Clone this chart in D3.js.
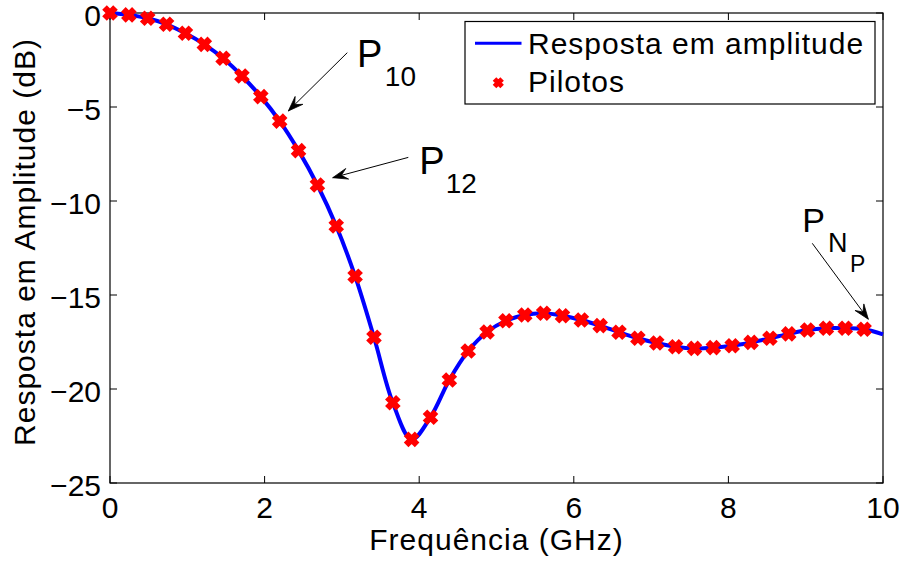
<!DOCTYPE html>
<html>
<head>
<meta charset="utf-8">
<script src="https://cdn.jsdelivr.net/npm/d3@7"></script>
<style>
  html, body { margin: 0; padding: 0; background: #fff; }
  svg { display: block; font-family: "Liberation Sans", Arial, Helvetica, sans-serif; }
</style>
</head>
<body>
<svg id="chart" width="903" height="561"></svg>
<script>
// Pilot subcarrier frequencies (GHz) and their measured amplitude response (dB)
const pilotFreq = [0, 0.244, 0.488, 0.732, 0.976, 1.220, 1.463, 1.707, 1.951, 2.195,
  2.439, 2.683, 2.927, 3.171, 3.415, 3.659, 3.902, 4.146, 4.390, 4.634,
  4.878, 5.122, 5.366, 5.610, 5.854, 6.098, 6.341, 6.585, 6.829, 7.073,
  7.317, 7.561, 7.805, 8.049, 8.293, 8.537, 8.780, 9.024, 9.268, 9.512, 9.756];
const pilotDb = [0.0, -0.1, -0.28, -0.6, -1.08, -1.67, -2.41, -3.35, -4.45, -5.75,
  -7.32, -9.15, -11.33, -14.0, -17.25, -20.73, -22.68, -21.5, -19.52, -17.98,
  -16.97, -16.37, -16.06, -15.97, -16.1, -16.33, -16.63, -16.98, -17.3, -17.55,
  -17.75, -17.84, -17.8, -17.7, -17.52, -17.3, -17.07, -16.86, -16.77, -16.77, -16.82];

// Continuous amplitude response runs through the pilots up to the band edge
const responseFreq = pilotFreq.concat([10]);
const responseDb = pilotDb.concat([-17.09]);

const xTicks = [0, 2, 4, 6, 8, 10];
const xTickLabels = ["0", "2", "4", "6", "8", "10"];
const yTicks = [0, -5, -10, -15, -20, -25];
const yTickLabels = ["0", "\u22125", "\u221210", "\u221215", "\u221220", "\u221225"];

const legendLabels = ["Resposta em amplitude", "Pilotos"];

// Callouts: label text, label anchor and arrow tail/tip in data units
const callouts = [
  { main: "P", subs: [{ t: "10", size: 28, dx: 2.5, dy: 19.5 }], size: 38, tx: 3.195, ty: -2.86,
    fromX: 3.070, fromY: -2.11, toX: 2.307, toY: -5.21 },
  { main: "P", subs: [{ t: "12", size: 28, dx: 1, dy: 19.5 }], size: 38, tx: 4.001, ty: -8.54,
    fromX: 3.859, fromY: -7.68, toX: 2.881, toY: -8.76 },
  { main: "P", subs: [{ t: "N", size: 27, dx: 3, dy: 20 }, { t: "P", size: 23, dx: 2.5, dy: 20 }], size: 34, tx: 8.956, ty: -11.63,
    fromX: 9.085, fromY: -12.25, toX: 9.810, toY: -16.29 }
];

const svg = d3.select("#chart");
const plotLeft = 110, plotRight = 883, plotTop = 13, plotBottom = 483;

const x = d3.scaleLinear().domain([0, 10]).range([plotLeft, plotRight]);
const y = d3.scaleLinear().domain([-25, 0]).range([plotBottom, plotTop]);

const tickLen = 7;
const fontSize = 30;

// Axes box with inward ticks on all four sides
const axisG = svg.append("g");
axisG.append("rect")
  .attr("x", plotLeft).attr("y", plotTop)
  .attr("width", plotRight - plotLeft).attr("height", plotBottom - plotTop)
  .attr("fill", "none").attr("stroke", "#000").attr("stroke-width", 1.2);

xTicks.forEach((t, i) => {
  const px = x(t);
  axisG.append("line").attr("x1", px).attr("x2", px).attr("y1", plotBottom).attr("y2", plotBottom - tickLen)
    .attr("stroke", "#000").attr("stroke-width", 1);
  axisG.append("line").attr("x1", px).attr("x2", px).attr("y1", plotTop).attr("y2", plotTop + tickLen)
    .attr("stroke", "#000").attr("stroke-width", 1);
  axisG.append("text").attr("x", px).attr("y", plotBottom + 35)
    .attr("text-anchor", "middle").attr("font-size", fontSize).text(xTickLabels[i]);
});

yTicks.forEach((t, i) => {
  const py = y(t);
  axisG.append("line").attr("x1", plotLeft).attr("x2", plotLeft + tickLen).attr("y1", py).attr("y2", py)
    .attr("stroke", "#000").attr("stroke-width", 1);
  axisG.append("line").attr("x1", plotRight).attr("x2", plotRight - tickLen).attr("y1", py).attr("y2", py)
    .attr("stroke", "#000").attr("stroke-width", 1);
  axisG.append("text").attr("x", plotLeft - 9).attr("y", py + 13)
    .attr("text-anchor", "end").attr("font-size", fontSize).text(yTickLabels[i]);
});

// Axis titles
svg.append("text")
  .attr("x", (plotLeft + plotRight) / 2).attr("y", 550)
  .attr("text-anchor", "middle").attr("font-size", fontSize).attr("letter-spacing", 1)
  .text("Frequência (GHz)");

svg.append("text")
  .attr("transform", `translate(35, ${(plotTop + plotBottom) / 2 - 6}) rotate(-90)`)
  .attr("text-anchor", "middle").attr("font-size", fontSize).attr("letter-spacing", 1)
  .text("Resposta em Amplitude (dB)");

// Amplitude response curve
const lineGen = d3.line()
  .x((d, i) => x(responseFreq[i]))
  .y(d => y(d))
  .curve(d3.curveCatmullRom.alpha(0.5));

svg.append("path")
  .datum(responseDb)
  .attr("d", lineGen)
  .attr("fill", "none")
  .attr("stroke", "#0000ff")
  .attr("stroke-width", 4)
  .attr("stroke-linejoin", "round");

// Pilot markers drawn as thick crosses
function cross(g, cx, cy, r, w) {
  g.append("path")
    .attr("d", `M${cx - r},${cy - r}L${cx + r},${cy + r}M${cx - r},${cy + r}L${cx + r},${cy - r}`)
    .attr("stroke", "#ff0000").attr("stroke-width", w).attr("fill", "none");
}
const markerG = svg.append("g");
pilotDb.forEach((v, i) => cross(markerG, x(pilotFreq[i]), y(v), 5.5, 6.5));

// Callout arrows with labels
function arrow(g, x1, y1, x2, y2) {
  g.append("line").attr("x1", x1).attr("y1", y1).attr("x2", x2).attr("y2", y2)
    .attr("stroke", "#000").attr("stroke-width", 1);
  const ang = Math.atan2(y2 - y1, x2 - x1);
  const L = 15, W = 5.5;
  const ux = Math.cos(ang), uy = Math.sin(ang);
  const px = -uy, py = ux;
  const bx = x2 - ux * L, by = y2 - uy * L;
  const nx = x2 - ux * L * 0.6, ny = y2 - uy * L * 0.6;
  g.append("path")
    .attr("d", `M${x2},${y2}L${bx + px * W},${by + py * W}L${nx},${ny}L${bx - px * W},${by - py * W}Z`)
    .attr("fill", "#000").attr("stroke", "#000").attr("stroke-width", 0.8).attr("stroke-linejoin", "miter");
}
const calloutG = svg.append("g");
callouts.forEach(c => {
  arrow(calloutG, x(c.fromX), y(c.fromY), x(c.toX), y(c.toY));
  const t = calloutG.append("text").attr("x", x(c.tx)).attr("y", y(c.ty)).attr("font-size", c.size);
  t.append("tspan").text(c.main);
  c.subs.forEach(s => {
    t.append("tspan").attr("dx", s.dx).attr("dy", s.dy).attr("font-size", s.size).text(s.t);
  });
});

// Legend
const lg = svg.append("g");
lg.append("rect").attr("x", 465).attr("y", 21.5).attr("width", 410).attr("height", 82.5)
  .attr("fill", "#fff").attr("stroke", "#000").attr("stroke-width", 1.2);
lg.append("line").attr("x1", 475).attr("x2", 521.5).attr("y1", 43.3).attr("y2", 43.3)
  .attr("stroke", "#0000ff").attr("stroke-width", 3);
cross(lg, 498.3, 82.7, 3.8, 5);
lg.append("text").attr("x", 528).attr("y", 53.5).attr("font-size", fontSize).attr("letter-spacing", 1).text(legendLabels[0]);
lg.append("text").attr("x", 528).attr("y", 91.8).attr("font-size", fontSize).attr("letter-spacing", 1).text(legendLabels[1]);
</script>
</body>
</html>
